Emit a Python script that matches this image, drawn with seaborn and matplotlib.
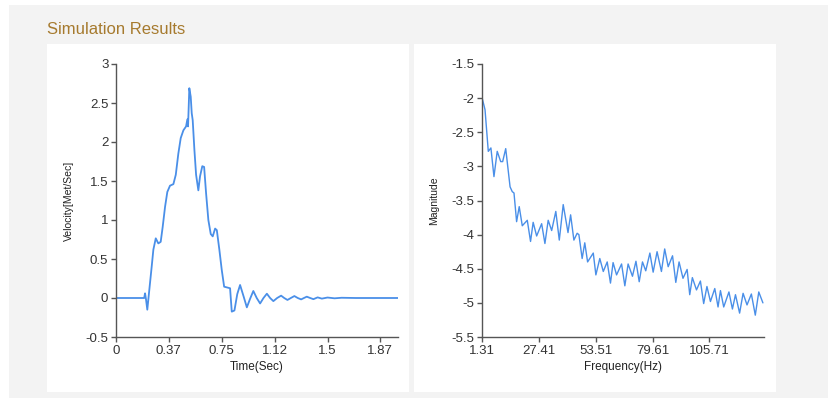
import matplotlib
matplotlib.use("Agg")
import matplotlib.pyplot as plt
from matplotlib.patches import Rectangle
import seaborn as sns

# ---------------- data ----------------
time_s = [0, 0.20, 0.206, 0.213, 0.222, 0.236, 0.253, 0.265, 0.282, 0.300, 0.317,
          0.331, 0.348, 0.364, 0.383, 0.407, 0.424, 0.442, 0.459, 0.478, 0.497,
          0.506, 0.511, 0.520, 0.530, 0.537, 0.544, 0.556, 0.568, 0.584, 0.596,
          0.612, 0.625, 0.639, 0.655, 0.672, 0.686, 0.703, 0.715, 0.733, 0.750,
          0.767, 0.809, 0.821, 0.840, 0.860, 0.880, 0.905, 0.928, 0.951, 0.974,
          0.998, 1.022, 1.046, 1.070, 1.093, 1.116, 1.143, 1.171, 1.193, 1.216,
          1.240, 1.265, 1.289, 1.313, 1.333, 1.353, 1.377, 1.400, 1.43, 1.46,
          1.50, 1.55, 1.60, 1.70, 1.80, 1.90, 2.0]
velocity = [0, 0, 0.06, -0.02, -0.15, 0.1, 0.4, 0.62, 0.765, 0.70, 0.72,
            0.91, 1.17, 1.36, 1.44, 1.46, 1.58, 1.85, 2.05, 2.15, 2.2,
            2.29, 2.2, 2.69, 2.58, 2.37, 2.28, 1.9, 1.58, 1.38, 1.56,
            1.69, 1.68, 1.34, 1.0, 0.82, 0.79, 0.89, 0.87, 0.62, 0.36,
            0.145, 0.125, -0.175, -0.16, 0.05, 0.167, 0.02, -0.12, -0.01, 0.09,
            0.0, -0.07, 0.0, 0.055, 0.0, -0.04, 0.0, 0.03, 0.0, -0.025,
            0.0, 0.025, 0.0, -0.018, 0.0, 0.017, 0.0, -0.015, 0.008, -0.008,
            0.006, -0.004, 0.003, 0, 0, 0, 0]

freq_hz = [1.31, 2.7, 4.2, 5.4, 6.8, 8.3, 9.9, 10.8, 12.2, 14.2, 15.2, 16.0, 17.2, 18.4,
           19.8, 22.1, 23.6, 24.8, 26.4, 28.7, 30.2, 31.7, 33.3, 35.2, 36.8, 38.6,
           40.8, 42.0, 43.5, 45.0, 45.8, 47.3, 48.5, 49.8, 52.4, 53.6, 55.4, 57.0,
           58.8, 60.3, 61.5, 63.1, 65.4, 66.9, 68.4, 70.4, 72.0, 73.5, 75.0, 76.5,
           78.4, 79.9, 81.7, 83.7, 85.2, 86.8, 88.8, 90.3, 91.8, 93.6, 95.5, 96.7,
           97.9, 99.8, 101.6, 103.1, 104.6, 106.2, 108.2, 109.7, 110.8, 112.3,
           114.7, 116.3, 117.7, 119.6, 121.2, 123.0, 125.0, 126.8, 128.4, 130.3]
magnitude = [-1.99, -2.17, -2.78, -2.73, -3.15, -2.78, -2.93, -2.93, -2.74, -3.3, -3.37,
             -3.39, -3.81, -3.59, -3.87, -3.79, -4.1, -3.82, -4.02, -3.84, -4.13, -3.79,
             -3.94, -3.66, -4.08, -3.56, -3.97, -3.71, -4.08, -3.98, -4.0, -4.35, -4.12,
             -4.4, -4.27, -4.59, -4.35, -4.54, -4.4, -4.71, -4.41, -4.59, -4.43, -4.75,
             -4.43, -4.61, -4.39, -4.69, -4.40, -4.53, -4.27, -4.55, -4.25, -4.54, -4.21,
             -4.47, -4.31, -4.7, -4.40, -4.64, -4.51, -4.88, -4.63, -4.81, -4.68, -5.01,
             -4.76, -4.98, -4.79, -5.06, -4.82, -5.06, -4.84, -5.09, -4.88, -5.15, -4.86,
             -5.03, -4.87, -5.18, -4.84, -5.0]

time_ticks = [0, 0.375, 0.75, 1.125, 1.5, 1.875]
time_labels = ["0", "0.37", "0.75", "1.12", "1.5", "1.87"]
vel_ticks = [-0.5, 0, 0.5, 1, 1.5, 2, 2.5, 3]
freq_ticks = [1.31, 27.41, 53.51, 79.61, 105.71]
freq_labels = ["1.31", "27.41", "53.51", "79.61", "105.71"]
mag_ticks = [-5.5, -5, -4.5, -4, -3.5, -3, -2.5, -2, -1.5]

title = "Simulation Results"

# ---------------- style ----------------
sns.set_style("white")
plt.rcParams["font.family"] = ["Liberation Sans", "DejaVu Sans"]

W, H = 838, 400
fig = plt.figure(figsize=(W / 100, H / 100), dpi=100)
fig.patch.set_facecolor("white")

def px_rect(x0, y0, x1, y1, color):
    fig.patches.append(Rectangle((x0 / W, 1 - y1 / H), (x1 - x0) / W, (y1 - y0) / H,
                                 transform=fig.transFigure, facecolor=color,
                                 edgecolor="none", zorder=-10))

px_rect(9, 5, 828, 398, "#f3f3f3")
px_rect(47, 44, 409, 392, "white")
px_rect(414, 44, 776, 392, "white")

fig.text(47 / W, 1 - 30 / H, title, color="#a67a2e", fontsize=12, va="center", ha="left")

line_color = "#4a8fe8"

def make_axes(x0, x1, y0, y1):
    ax = fig.add_axes([x0 / W, 1 - y1 / H, (x1 - x0) / W, (y1 - y0) / H])
    ax.patch.set_alpha(0)
    for s in ["top", "right"]:
        ax.spines[s].set_visible(False)
    for s in ["left", "bottom"]:
        ax.spines[s].set_color("#555555")
        ax.spines[s].set_linewidth(1.0)
    ax.tick_params(axis="both", direction="out", length=3.5, width=1.0, color="#555555",
                   labelsize=9.5, labelcolor="#333333", pad=2, left=True, bottom=True)
    return ax

# Left: velocity
ax1 = make_axes(116, 398, 64, 337)
sns.lineplot(x=time_s, y=velocity, ax=ax1, color=line_color, linewidth=1.3,
             estimator=None, sort=False, solid_joinstyle="round")
ax1.set_xlim(0, 2.0)
ax1.set_ylim(-0.5, 3)
ax1.set_xticks(time_ticks)
ax1.set_xticklabels(time_labels)
ax1.set_yticks(vel_ticks)
ax1.set_yticklabels([f"{v:g}" for v in vel_ticks])
ax1.set_xlabel("Time(Sec)", fontsize=8.5, color="#222222", labelpad=3)
ax1.set_ylabel("Velocity[Met/Sec]", fontsize=7.5, color="#222222", labelpad=8)

# Right: FFT magnitude
ax2 = make_axes(482, 764, 64, 337)
sns.lineplot(x=freq_hz, y=magnitude, ax=ax2, color=line_color, linewidth=1.0,
             estimator=None, sort=False, solid_joinstyle="round")
ax2.set_xlim(1.31, 130.8)
ax2.set_ylim(-5.5, -1.5)
ax2.set_xticks(freq_ticks)
ax2.set_xticklabels(freq_labels)
ax2.set_yticks(mag_ticks)
ax2.set_yticklabels([f"{v:g}" for v in mag_ticks])
ax2.set_xlabel("Frequency(Hz)", fontsize=8.5, color="#222222", labelpad=3)
ax2.set_ylabel("Magnitude", fontsize=7.5, color="#222222", labelpad=9)

fig.savefig("out.png", dpi=100, facecolor=fig.get_facecolor())
